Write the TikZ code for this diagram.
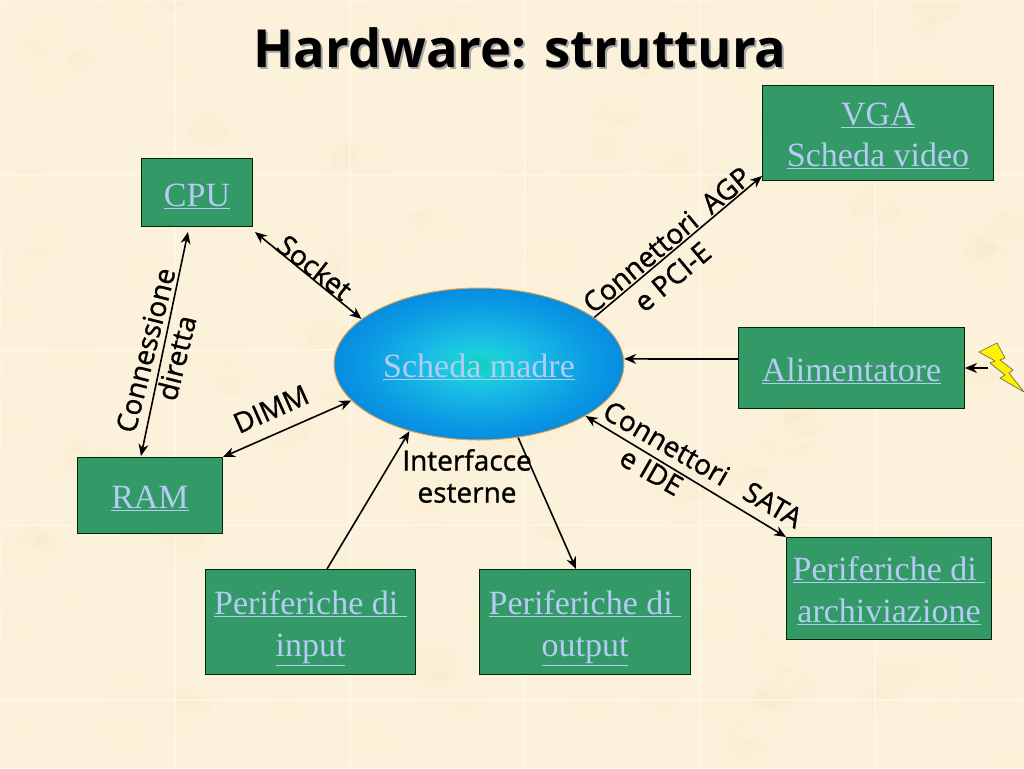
\documentclass[tikz,border=0pt]{standalone}
\usepackage{fontspec}
\setmainfont{Liberation Serif}
\newfontfamily\labelfont[FakeBold=1]{Open Sans}
\newfontfamily\titlefont{Open Sans}
\usetikzlibrary{calc,arrows.meta,shapes.geometric}
\definecolor{paper}{HTML}{FCF2DC}
\definecolor{blot}{HTML}{F5E6C4}
\definecolor{seam}{HTML}{FFFAEE}
\definecolor{boxgreen}{HTML}{339966}
\definecolor{linkblue}{HTML}{B4CCF4}
\definecolor{edgeorange}{HTML}{E8A850}
\definecolor{boltyellow}{HTML}{FFF200}
\pgfdeclareradialshading{boardshade}{\pgfpoint{0bp}{0bp}}{%
 rgb(0bp)=(0.08,0.80,0.72);
 rgb(4bp)=(0.10,0.82,0.85);
 rgb(9bp)=(0.10,0.74,0.90);
 rgb(20bp)=(0.04,0.60,0.89);
 rgb(31bp)=(0.02,0.49,0.87);
 rgb(43bp)=(0.02,0.36,0.74);
 rgb(50bp)=(0.02,0.28,0.62)}
\tikzset{
 x=1pt,y=-1pt,
 hw/.style={draw=black!85!green,line width=1pt,fill=boxgreen,text=linkblue,inner sep=0pt,
   font=\fontsize{34}{42}\selectfont,align=center,anchor=north west},
 board/.style={ellipse,draw=edgeorange,line width=1pt,shading=boardshade,text=linkblue,inner sep=0pt,
   minimum width=290pt,minimum height=152pt,font=\fontsize{34}{38}\selectfont},
 conn/.style={draw=black,line width=1.6pt,-{Stealth[length=12pt,width=10pt]}},
 biconn/.style={draw=black,line width=1.6pt,{Stealth[length=12pt,width=10pt]}-{Stealth[length=12pt,width=10pt]}},
 lab/.style={font=\labelfont\fontsize{28}{32}\selectfont,align=center,text=black,inner sep=0pt},
 titletext/.style={font=\titlefont\bfseries\fontsize{52.5}{60}\selectfont,inner sep=0pt},
}
\newcommand{\hwbox}[6]{\node[hw,minimum width=#4pt-#2pt,minimum height=#5pt-#3pt] (#1) at (#2,#3) {#6};}
\newcommand{\lift}[1]{\rule{0pt}{#1pt}}
\newcommand{\pad}[1]{\rule{#1pt}{0pt}}
\begin{document}
\begin{tikzpicture}
\useasboundingbox (0,0) rectangle (1024,768);
\fill[paper] (0,0) rectangle (1024,768);
\begin{scope}
\clip (0,0) rectangle (1024,768);
\pgfmathsetseed{4242}
\foreach \i in {1,...,220}{
  \pgfmathsetmacro{\xa}{rnd*1024}
  \pgfmathsetmacro{\ya}{rnd*768}
  \pgfmathsetmacro{\ra}{10+rnd*22}
  \fill[blot,opacity=0.13] (\xa,\ya) ellipse [x radius=\ra pt,y radius=0.7*\ra pt];
}
\foreach \p in {0,175,350,525,700,875}{
  \draw[seam,line width=1.2pt,opacity=0.6] (\p,0) -- (\p,768);
}
\foreach \p in {0,175,350,525,700}{
  \draw[seam,line width=1.2pt,opacity=0.6] (0,\p) -- (1024,\p);
}
\end{scope}

\node[titletext,text=black!35] (titleshadow) at (522,50) {Hardware: struttura};
\node[titletext,text=black] (title) at (520,48) {Hardware: struttura};

\hwbox{cpu}{141}{158}{252}{226}{\lift{30}\underline{CPU}}
\hwbox{vga}{762}{85}{993}{180}{\lift{28}\underline{VGA}\\[-1pt]\underline{Scheda video}}
\hwbox{psu}{738}{327}{964}{408}{\lift{30}\underline{Alimentatore}}
\hwbox{ram}{77}{457}{222}{533}{\lift{28}\underline{RAM}}
\hwbox{inp}{205}{569}{415}{674}{\lift{36}\underline{Periferiche di\ }\\\underline{input}}
\hwbox{out}{479}{569}{690}{674}{\lift{36}\underline{Periferiche di\ }\\\underline{output}}
\hwbox{arc}{786}{537}{991}{639}{\lift{29}\underline{Periferiche di\ }\\\underline{archiviazione}}

\node[board] (mb) at (479,364) {\lift{30}\underline{Scheda madre}};

\coordinate (bolt) at (988,368);
\draw[draw=black!70!yellow,line width=0.6pt,fill=boltyellow] (979,352) -- (997,343) -- (1005,358) -- (1000,360) -- (1013,370) -- (1009,373) -- (1024,392) -- (1000,378) -- (1005,375) -- (990,363) -- (995,361) -- cycle;

\draw[biconn] ($(cpu.south west)+(47,5)$) -- ($(ram.north west)+(64,-1)$);
\draw[biconn] ($(cpu.south east)+(2,5)$) -- (mb.159);
\draw[biconn] (ram.north east) -- (mb.196);
\draw[conn] ($(inp.north west)+(122,0)$) -- (mb.224);
\draw[conn] (mb.298) -- ($(out.north west)+(97,0)$);
\draw[conn] (mb.22) -- ($(vga.south west)+(0,-5)$);
\draw[conn] (psu.west |- 0,359) -- (mb.2);
\draw[biconn] (mb.334) -- (arc.north west);
\draw[conn] (bolt) -- (psu.east |- bolt);

\node[lab,rotate=76] (l1) at (161,354) {Connessione\\diretta};
\node[lab,rotate=-38] (l2) at (315,267) {Socket};
\node[lab,rotate=24] (l3) at (271,409) {DIMM};
\node[lab,rotate=40] (l4) at (677,252) {Connettori\ \ AGP\\e PCI-E\pad{39}};
\node[lab,rotate=-30] (l5) at (695,478) {Connettori\ \ \ SATA\\e IDE\pad{82}};
\node[lab] (l6) at (467,476) {Interfacce\\esterne};
\end{tikzpicture}
\end{document}
